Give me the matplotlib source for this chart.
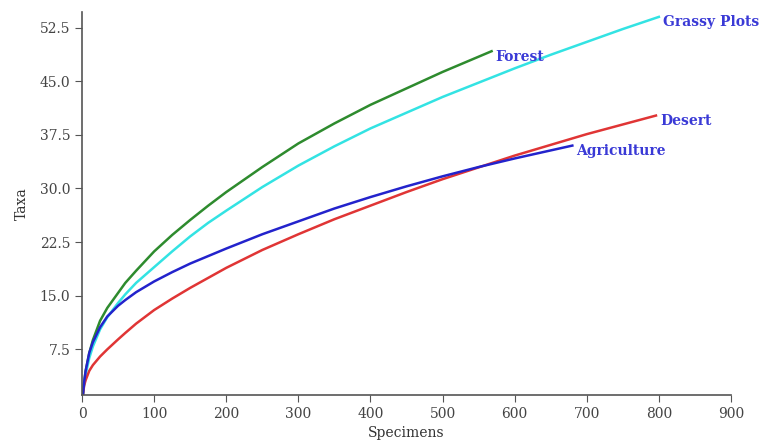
import matplotlib.pyplot as plt

# rarefaction curves: specimens vs taxa
forest_x = [1, 3, 5, 10, 15, 25, 35, 50, 60, 75, 100, 125, 150, 175, 200, 250, 300, 350, 400, 450, 500, 568]
forest_y = [1, 3, 4.5, 7, 8.8, 11.5, 13.3, 15.4, 16.8, 18.5, 21.2, 23.5, 25.6, 27.6, 29.5, 33.0, 36.3, 39.1, 41.7, 44.0, 46.3, 49.2]

grassy_x = [1, 3, 5, 10, 15, 25, 35, 50, 60, 75, 100, 125, 150, 175, 200, 250, 300, 350, 400, 450, 500, 550, 600, 650, 700, 750, 800]
grassy_y = [1, 2.8, 4, 6.3, 7.9, 10.3, 12.0, 14.0, 15.2, 16.8, 19.0, 21.2, 23.3, 25.2, 26.9, 30.2, 33.2, 35.9, 38.4, 40.6, 42.8, 44.8, 46.8, 48.7, 50.5, 52.3, 54.0]

agri_x = [1, 3, 5, 10, 15, 25, 35, 50, 60, 75, 100, 125, 150, 200, 250, 300, 350, 400, 450, 500, 550, 600, 680]
agri_y = [1, 3, 4.5, 7, 8.5, 10.6, 12.1, 13.6, 14.4, 15.5, 17.0, 18.3, 19.5, 21.6, 23.6, 25.4, 27.2, 28.8, 30.3, 31.7, 33.0, 34.2, 36.0]

desert_x = [1, 3, 5, 10, 15, 25, 35, 50, 60, 75, 100, 125, 150, 175, 200, 250, 300, 350, 400, 450, 500, 600, 700, 796]
desert_y = [1, 2.5, 3.2, 4.5, 5.3, 6.5, 7.5, 8.9, 9.8, 11.1, 13.0, 14.6, 16.1, 17.5, 18.9, 21.4, 23.6, 25.7, 27.6, 29.5, 31.3, 34.6, 37.6, 40.2]

series = [
    ("Forest", forest_x, forest_y, "#2e8b2e"),
    ("Grassy Plots", grassy_x, grassy_y, "#33e3e3"),
    ("Desert", desert_x, desert_y, "#e03535"),
    ("Agriculture", agri_x, agri_y, "#2323cc"),
]

xticks = [0, 100, 200, 300, 400, 500, 600, 700, 800, 900]
yticks = [7.5, 15.0, 22.5, 30.0, 37.5, 45.0, 52.5]

plt.rcParams['font.family'] = 'DejaVu Serif'

fig = plt.figure(figsize=(7.67, 4.4), dpi=100)
ax = fig.add_axes([0.107, 0.102, 0.846, 0.871])

for name, xs, ys, col in series:
    ax.plot(xs, ys, color=col, lw=1.8)
    ax.annotate(name, (xs[-1], ys[-1]), xytext=(3, -4), textcoords='offset points',
                ha='left', va='center', color='#3a3ad6', fontsize=10, fontweight='bold',
                annotation_clip=False)

ax.set_xlim(0, 900)
ax.set_ylim(1.1, 54.7)
ax.set_xticks(xticks)
ax.set_yticks(yticks)
ax.set_yticklabels(["%.1f" % v for v in yticks])

for s in ['top', 'right']:
    ax.spines[s].set_visible(False)
for s in ['left', 'bottom']:
    ax.spines[s].set_color('#555555')
    ax.spines[s].set_linewidth(1.2)
ax.tick_params(direction='out', length=5, color='#555555', labelsize=10, labelcolor='#444444')

ax.set_xlabel("Specimens", fontsize=10, color='#333333', labelpad=4)
ax.set_ylabel("Taxa", fontsize=10, color='#333333', labelpad=8)

plt.savefig("out.png", dpi=100)
